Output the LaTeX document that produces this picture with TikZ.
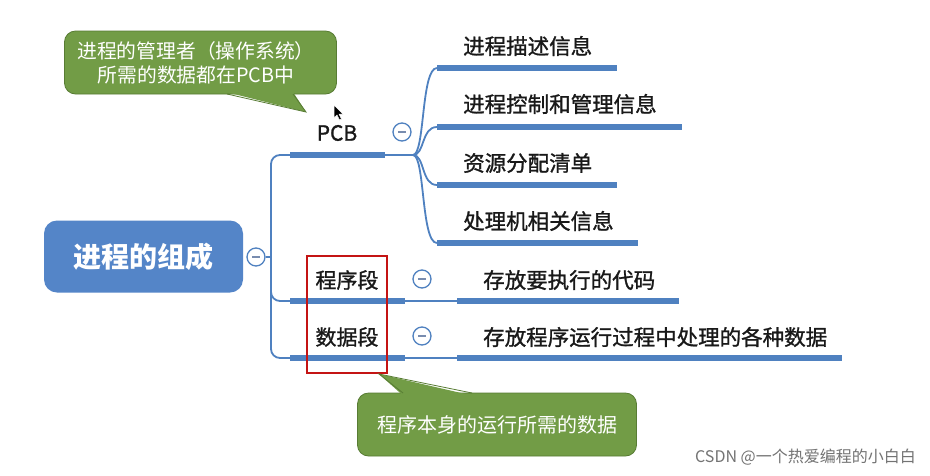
\documentclass[tikz,border=0pt]{standalone}
\usepackage{fontspec}
\setmainfont{Noto Sans CJK SC}
\newfontfamily\semifont[FakeBold=1.2]{Noto Sans CJK SC}
\usetikzlibrary{calc}
\definecolor{lineblue}{RGB}{79,129,192}
\definecolor{rootblue}{RGB}{84,133,200}
\definecolor{callgreen}{RGB}{114,156,70}
\definecolor{callborder}{RGB}{88,124,52}
\definecolor{dashgray}{RGB}{120,140,175}
\definecolor{boxred}{RGB}{196,20,20}
\tikzset{
  thinline/.style={draw=lineblue, line width=1.8pt},
  thickline/.style={draw=lineblue, line width=5.5pt},
  collapse/.style={circle, draw=lineblue, fill=white, line width=1.3pt, minimum size=18pt, inner sep=0pt,
    path picture={\draw[dashgray, line width=1.4pt] ([xshift=-4pt]path picture bounding box.center) -- ([xshift=4pt]path picture bounding box.center);}},
  leaf/.style={anchor=west, inner sep=0pt, font=\semifont\fontsize{21.5}{24}\selectfont, text=black!90},
  mid/.style={inner sep=0pt, font=\semifont\fontsize{21}{24}\selectfont, text=black!90},
  callout/.style={draw=callborder, fill=callgreen, line width=0.8pt, rounded corners=11pt, text=white, align=center,
    font=\fontsize{20}{25}\selectfont},
}
\begin{document}
\begin{tikzpicture}[x=1pt,y=-1pt]
\useasboundingbox[fill=white] (0,0) rectangle (930,475);

% root
\node[fill=rootblue, rounded corners=13pt, minimum width=199pt, minimum height=72pt, text=white,
  font=\fontsize{28}{32}\selectfont\bfseries] (root) at (143.5,256.5) {进程的组成};
\node[collapse] (rootc) at (256,257) {};
\coordinate (tr) at (271,257);
\draw[thinline] (rootc.east) -- (tr);

% trunk
\coordinate (pcbL) at (290,155);
\coordinate (progL) at (290,301);
\coordinate (dataL) at (290,358);
\draw[thinline, rounded corners=9pt] (pcbL) -- (271,155) -- (271,358) -- (dataL);
\draw[thinline, rounded corners=9pt] (tr) -- (271,301) -- (progL);

% PCB
\node[mid] (pcb) at (337,133) {PCB};
\coordinate (pcbR) at (385,155);
\coordinate (pcbB) at (413,155);
\draw[thickline] (pcbL) -- (pcbR);
\draw[thinline] (pcbR) -- (pcbB);
\node[collapse] (pcbc) at (402,132) {};

\coordinate (a1) at (437,68);  \coordinate (a1e) at (617,68);
\coordinate (a2) at (437,127); \coordinate (a2e) at (682,127);
\coordinate (a3) at (437,185); \coordinate (a3e) at (617,185);
\coordinate (a4) at (437,243); \coordinate (a4e) at (638,243);
\foreach \c in {a1,a2,a3,a4}{
  \draw[thinline] (pcbB) .. controls ($(pcbB)+(12,0)$) and ($(\c)+(-16,0)$) .. (\c);
}
\draw[thickline] (a1) -- (a1e);
\draw[thickline] (a2) -- (a2e);
\draw[thickline] (a3) -- (a3e);
\draw[thickline] (a4) -- (a4e);
\node[leaf] (t1) at (463,46) {进程描述信息};
\node[leaf] (t2) at (463,104) {进程控制和管理信息};
\node[leaf] (t3) at (463,163) {资源分配清单};
\node[leaf] (t4) at (463,221) {处理机相关信息};

% 程序段
\node[mid] (prog) at (347,280) {程序段};
\coordinate (progR) at (405,301);
\coordinate (progC) at (457,301);
\coordinate (progE) at (679,301);
\draw[thickline] (progL) -- (progR);
\draw[thinline] (progR) -- (progC);
\draw[thickline] (progC) -- (progE);
\node[collapse] (progc) at (422,279) {};
\node[leaf] (progt) at (483,280) {存放要执行的代码};

% 数据段
\node[mid] (data) at (347,337) {数据段};
\coordinate (dataR) at (405,358);
\coordinate (dataC) at (457,358);
\coordinate (dataE) at (842,358);
\draw[thickline] (dataL) -- (dataR);
\draw[thinline] (dataR) -- (dataC);
\draw[thickline] (dataC) -- (dataE);
\node[collapse] (datac) at (422,336) {};
\node[leaf] (datat) at (483,337) {存放程序运行过程中处理的各种数据};

% red box
\node[draw=boxred, line width=1.6pt, minimum width=80pt, minimum height=117pt, inner sep=0pt] (redbox) at (347,314.5) {};

% callout 1
\node[callout, minimum width=272pt, minimum height=63pt] (c1) at (200.5,62.5) {};
\node[inner sep=0pt, text=white, align=center, font=\fontsize{19.8}{24}\selectfont] (c1t) at (196,63) {进程的管理者（操作系统）\\所需的数据都在PCB中};
\coordinate (c1tip) at (306,112);
\fill[callgreen] (226,92) -- (c1tip) -- (293,92) -- cycle;
\draw[callborder, line width=0.8pt] (227,94) -- (c1tip) -- (293,94);

% callout 2
\node[callout, minimum width=279pt, minimum height=63pt] (c2) at (497,424.5) {程序本身的运行所需的数据};
\coordinate (c2tip) at (379,374);
\fill[callgreen] (403,395.5) -- (c2tip) -- (472,395.5) -- cycle;
\draw[callborder, line width=0.8pt] (403,393) -- (c2tip) -- (472,393);

% cursor
\filldraw[fill=black, draw=white, line width=0.5pt] (334,105) -- (334,118) -- (337,115) -- (339.5,120) -- (341.5,119) -- (339,114) -- (343,114) -- cycle;

% watermark
\node[anchor=east, inner sep=0pt, text=black!55, font=\fontsize{16}{18}\selectfont] (wm) at (916,457) {CSDN @一个热爱编程的小白白};
\end{tikzpicture}
\end{document}
